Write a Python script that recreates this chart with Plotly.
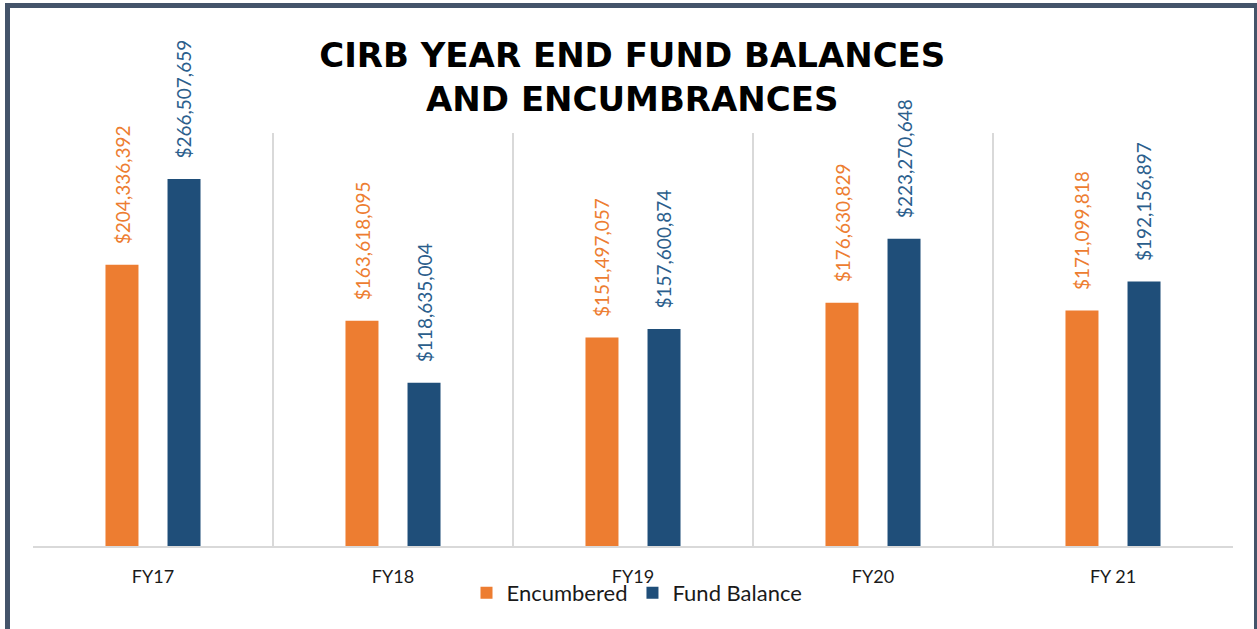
import plotly.graph_objects as go

categories = ["FY17", "FY18", "FY19", "FY20", "FY 21"]
encumbered = [204336392, 163618095, 151497057, 176630829, 171099818]
fund_balance = [266507659, 118635004, 157600874, 223270648, 192156897]
series_names = ["Encumbered", "Fund Balance"]
title_text = "CIRB YEAR END FUND BALANCES<br>AND ENCUMBRANCES"

ORANGE = "#ED7D31"
BLUE = "#1F4E79"
LABEL_BLUE = "#2B5E8C"
W, H = 1257, 629
L, R, T, B = 33, 24, 133, 83
PW, PH = W - L - R, H - T - B

def px_x(p):
    return (p - L) / PW

def px_y(p):
    return (H - B - p) / PH

fig = go.Figure()
fig.add_trace(go.Bar(x=categories, y=encumbered, name=series_names[0],
                     marker=dict(color=ORANGE, line=dict(width=0))))
fig.add_trace(go.Bar(x=categories, y=fund_balance, name=series_names[1],
                     marker=dict(color=BLUE, line=dict(width=0))))

label_font = "Lato, 'Open Sans', sans-serif"
for vals, color, shift in [(encumbered, ORANGE, -31), (fund_balance, LABEL_BLUE, 31)]:
    for c, v in zip(categories, vals):
        fig.add_annotation(x=c, y=v, xref="x", yref="y", text=f"${v:,.0f}",
                           textangle=-90, showarrow=False, xanchor="center",
                           yanchor="bottom", xshift=shift, yshift=18,
                           font=dict(family=label_font, size=19, color=color))

fig.add_shape(type="rect", xref="paper", yref="paper",
              x0=px_x(7.5), x1=px_x(1256.5), y0=px_y(660), y1=px_y(5.5),
              line=dict(color="#44546A", width=5), fillcolor="rgba(0,0,0,0)")

fig.update_layout(
    width=W, height=H,
    margin=dict(l=L, r=R, t=T, b=B, pad=0),
    paper_bgcolor="white", plot_bgcolor="white",
    barmode="group", bargap=0.483, bargroupgap=0.468,
    title=dict(text=title_text, x=0.503, xref="container", xanchor="center",
               y=1 - 67 / H, yref="container", yanchor="top",
               font=dict(family="DejaVu Sans", size=34, color="black", weight="bold")),
    legend=dict(orientation="h", x=px_x(637), y=px_y(593), xanchor="center",
                yanchor="middle", font=dict(family=label_font, size=22, color="#1a1a1a"),
                itemwidth=30, tracegroupgap=0, bgcolor="rgba(0,0,0,0)"),
    xaxis=dict(type="category", tickson="boundaries", showgrid=True,
               gridcolor="#D9D9D9", gridwidth=2, showline=True, linecolor="#D9D9D9",
               linewidth=2, ticks="", ticklabelstandoff=13,
               tickfont=dict(family=label_font, size=18, color="#1a1a1a")),
    yaxis=dict(range=[0, 300e6], visible=False, showgrid=False, zeroline=False),
    showlegend=True,
)

fig.write_html("out.html", config={"displayModeBar": False},
               post_script="document.body.style.margin='0';document.body.style.overflow='hidden';")
